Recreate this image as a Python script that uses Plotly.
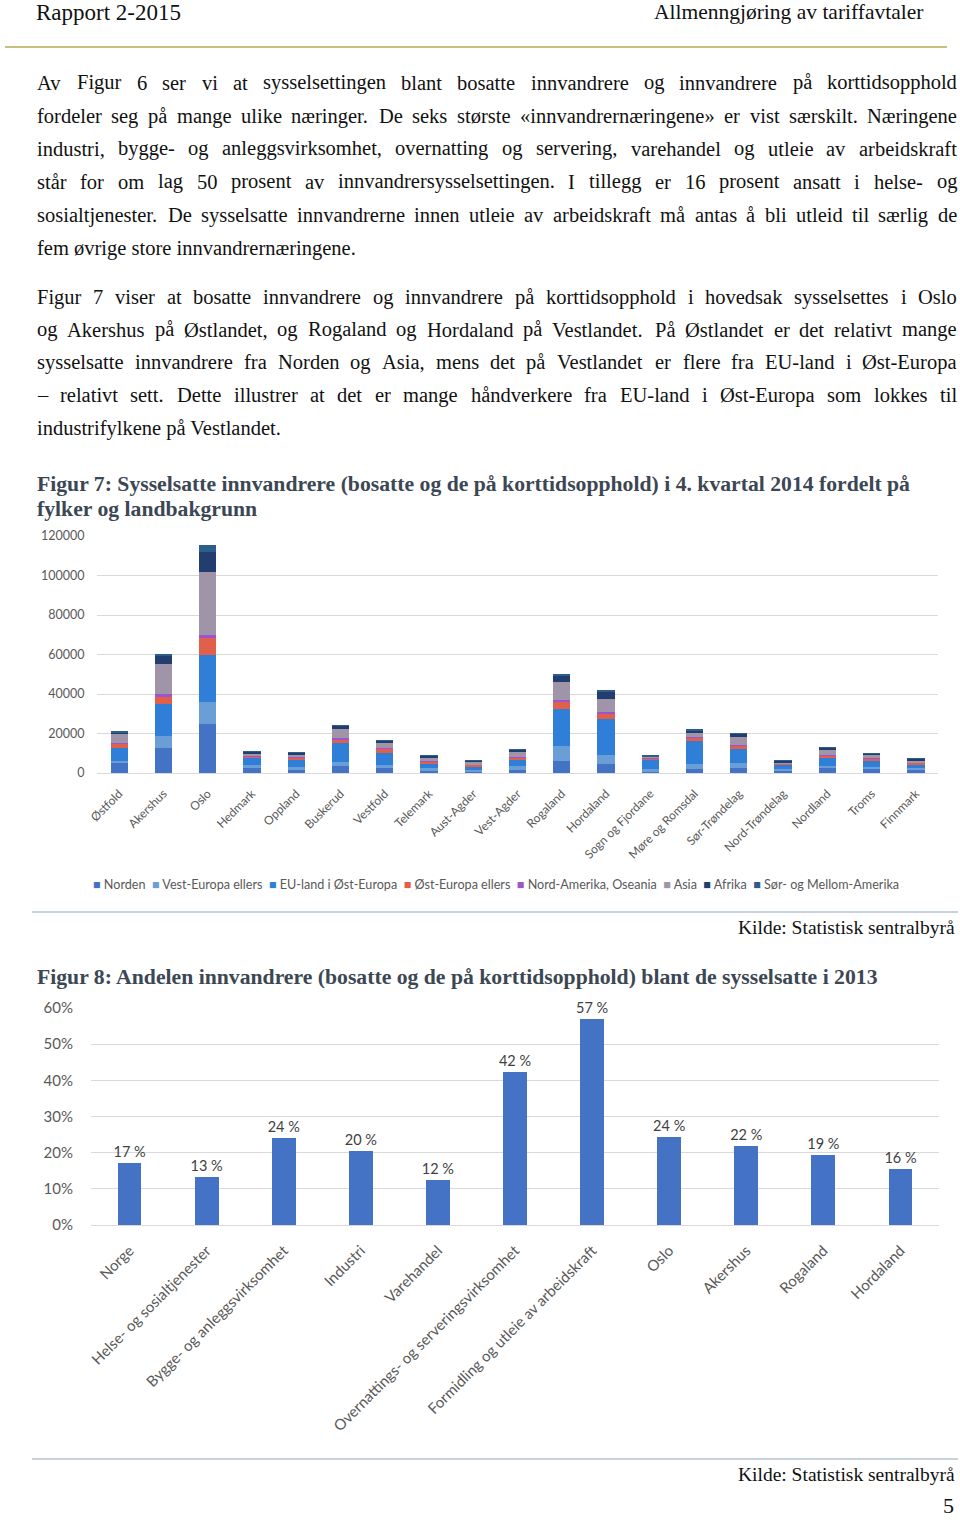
import plotly.graph_objects as go

W, H = 960, 1520

# ---------------- Data: Figure 7 ----------------
fylker = ["Østfold", "Akershus", "Oslo", "Hedmark", "Oppland", "Buskerud", "Vestfold",
          "Telemark", "Aust-Agder", "Vest-Agder", "Rogaland", "Hordaland", "Sogn og Fjordane",
          "Møre og Romsdal", "Sør-Trøndelag", "Nord-Trøndelag", "Nordland", "Troms", "Finnmark"]

norden = [5000, 12800, 24800, 2900, 1900, 3400, 2500, 1300, 800, 1300, 6000, 4400, 1000, 2000, 2700, 1300, 2400, 2400, 1700]
vest_europa = [1300, 5900, 11300, 1000, 1000, 2000, 1800, 1000, 700, 2000, 7700, 4900, 1000, 2500, 2400, 800, 1200, 800, 700]
eu_ost_europa = [6500, 16000, 23800, 3700, 3900, 9600, 6000, 2500, 2000, 3200, 18800, 18000, 4700, 11600, 7000, 2200, 4200, 3200, 2000]
ost_europa_ellers = [2300, 4000, 8700, 700, 1200, 2200, 2000, 1200, 700, 1300, 3900, 2700, 800, 1700, 2000, 300, 1300, 1000, 700]
nord_amerika = [300, 1500, 1500, 100, 100, 300, 200, 100, 100, 200, 800, 700, 100, 200, 200, 100, 100, 100, 100]
asia = [4400, 15200, 31600, 1700, 1300, 5000, 3000, 1800, 1500, 2500, 8700, 6700, 500, 2700, 3700, 700, 2500, 1700, 1300]
afrika = [900, 4000, 10000, 700, 800, 1500, 800, 800, 500, 1200, 3000, 3400, 500, 1000, 1800, 700, 1000, 800, 700]
sor_mellom_amerika = [300, 1000, 3500, 100, 100, 300, 300, 100, 100, 100, 1200, 1200, 100, 300, 300, 100, 100, 100, 100]

serie_navn = ["Norden", "Vest-Europa ellers", "EU-land i Øst-Europa", "Øst-Europa ellers",
              "Nord-Amerika, Oseania", "Asia", "Afrika", "Sør- og Mellom-Amerika"]
serie_verdier = [norden, vest_europa, eu_ost_europa, ost_europa_ellers,
                 nord_amerika, asia, afrika, sor_mellom_amerika]
serie_farger = ["#4472C4", "#6A9ED6", "#2F7FD9", "#E0604C", "#9B55CF", "#A095A8", "#213E6E", "#2C5E8C"]

# ---------------- Data: Figure 8 ----------------
naeringer = ["Norge", "Helse- og sosialtjenester", "Bygge- og anleggsvirksomhet", "Industri",
             "Varehandel", "Overnattings- og serveringsvirksomhet", "Formidling og utleie av arbeidskraft",
             "Oslo", "Akershus", "Rogaland", "Hordaland"]
andel = [17.1, 13.3, 24.1, 20.4, 12.4, 42.4, 57.0, 24.3, 21.9, 19.4, 15.6]
andel_tekst = ["17 %", "13 %", "24 %", "20 %", "12 %", "42 %", "57 %", "24 %", "22 %", "19 %", "16 %"]

# ---------------- Page text ----------------
para1 = [
    "Av Figur 6 ser vi at sysselsettingen blant bosatte innvandrere og innvandrere på korttidsopphold",
    "fordeler seg på mange ulike næringer. De seks største «innvandrernæringene» er vist særskilt. Næringene",
    "industri, bygge- og anleggsvirksomhet, overnatting og servering, varehandel og utleie av arbeidskraft",
    "står for om lag 50 prosent av innvandrersysselsettingen. I tillegg er 16 prosent ansatt i helse- og",
    "sosialtjenester. De sysselsatte innvandrerne innen utleie av arbeidskraft må antas å bli utleid til særlig de",
    "fem øvrige store innvandrernæringene.",
]
para2 = [
    "Figur 7 viser at bosatte innvandrere og innvandrere på korttidsopphold i hovedsak sysselsettes i Oslo",
    "og Akershus på Østlandet, og Rogaland og Hordaland på Vestlandet. På Østlandet er det relativt mange",
    "sysselsatte innvandrere fra Norden og Asia, mens det på Vestlandet er flere fra EU-land i Øst-Europa",
    "– relativt sett. Dette illustrer at det er mange håndverkere fra EU-land i Øst-Europa som lokkes til",
    "industrifylkene på Vestlandet.",
]
para1_y = [83, 116, 149, 182, 215, 248]
para2_y = [297, 330, 362, 395, 428]

fig7_title = ["Figur 7: Sysselsatte innvandrere (bosatte og de på korttidsopphold) i 4. kvartal 2014 fordelt på",
              "fylker og landbakgrunn"]
fig8_title = "Figur 8: Andelen innvandrere (bosatte og de på korttidsopphold) blant de sysselsatte i 2013"


def xp(px):
    return px / W


def yp(py):
    return 1 - py / H


# Times (Liberation Serif) advance widths per 1000 em
TIMES = {' ': 250, 'a': 444, 'b': 500, 'c': 444, 'd': 500, 'e': 444, 'f': 333, 'g': 500, 'h': 500,
         'i': 278, 'j': 278, 'k': 500, 'l': 278, 'm': 778, 'n': 500, 'o': 500, 'p': 500, 'q': 500,
         'r': 333, 's': 389, 't': 278, 'u': 500, 'v': 500, 'w': 722, 'x': 500, 'y': 500, 'z': 444,
         'A': 722, 'B': 667, 'C': 667, 'D': 722, 'E': 611, 'F': 556, 'G': 722, 'H': 722, 'I': 333,
         'J': 389, 'K': 722, 'L': 611, 'M': 889, 'N': 722, 'O': 722, 'P': 556, 'Q': 722, 'R': 667,
         'S': 556, 'T': 611, 'U': 722, 'V': 722, 'W': 944, 'X': 722, 'Y': 722, 'Z': 611,
         '.': 250, ',': 250, '-': 333, ':': 278, '«': 500, '»': 500, '–': 500, 'å': 444, 'æ': 667,
         'ø': 500, 'Ø': 722, 'é': 444, '(': 333, ')': 333, '%': 833}


def tw(s, size):
    return sum(TIMES.get(c, 500) for c in s) * size / 1000


LEFT, RIGHT = 36, 956
TARGET = RIGHT - LEFT
justified = para1[:-1] + para2[:-1]
max_units = max(tw(l, 1) for l in justified)
body_size = min(20.5, TARGET * 0.975 / max_units)

annotations = []
serif = "Liberation Serif"


def add_text(text, x, y, size, anchor="left", color="#111111", family=serif, yanchor="middle"):
    annotations.append(dict(text=text, x=xp(x), y=yp(y), xref="paper", yref="paper",
                            xanchor=anchor, yanchor=yanchor, showarrow=False,
                            font=dict(family=family, size=size, color=color)))


def add_paragraph(lines, ys):
    for i, (line, y) in enumerate(zip(lines, ys)):
        if i == len(lines) - 1:
            add_text(line, LEFT - 1, y, body_size)
            continue
        words = line.split(" ")
        total = sum(tw(w, body_size) for w in words)
        gap = (TARGET - total) / (len(words) - 1)
        x = LEFT
        for w in words:
            add_text(w, x - 1, y, body_size)
            x += tw(w, body_size) + gap


add_paragraph(para1, para1_y)
add_paragraph(para2, para2_y)

# Header
add_text("Rapport 2-2015", 34, 12, 23)
add_text("Allmenngjøring av tariffavtaler", 925, 12, 21.5, anchor="right")

# Figure titles
title_color = "#3C4754"
add_text("<b>" + fig7_title[0] + "</b>", 35, 484, 21.7, color=title_color)
add_text("<b>" + fig7_title[1] + "</b>", 35, 509, 21.7, color=title_color)
add_text("<b>" + fig8_title + "</b>", 35, 977, 21.7, color=title_color)

# Sources and page number
add_text("Kilde: Statistisk sentralbyrå", 957, 927, 19.5, anchor="right")
add_text("Kilde: Statistisk sentralbyrå", 957, 1474, 19.5, anchor="right")
add_text("5", 956, 1520, 22, anchor="right", yanchor="bottom")

# Legend for figure 7 (built from the series names/colours)
legend_txt = "  ".join(f'<span style="color:{c}">■</span> {n}' for n, c in zip(serie_navn, serie_farger))
add_text(legend_txt, 496, 884, 12.6, anchor="center", color="#595959", family="Lato")

fig = go.Figure()

for navn, verdier, farge in zip(serie_navn, serie_verdier, serie_farger):
    fig.add_trace(go.Bar(x=fylker, y=verdier, name=navn, marker=dict(color=farge, line=dict(width=0)),
                         xaxis="x", yaxis="y", showlegend=False))

fig.add_trace(go.Bar(x=naeringer, y=andel, text=andel_tekst, textposition="outside",
                     constraintext="none",
                     textfont=dict(family="Lato", size=14.5, color="#404040"),
                     marker=dict(color="#4472C4", line=dict(width=0)), cliponaxis=False,
                     width=0.31, xaxis="x2", yaxis="y2", showlegend=False))

grid = "#D9D9D9"
tickfont_color = "#595959"

fig.update_layout(
    width=W, height=H, autosize=False,
    margin=dict(l=0, r=0, t=0, b=0, pad=0, autoexpand=False),
    paper_bgcolor="white", plot_bgcolor="white",
    barmode="stack", bargap=0.61,
    showlegend=False,
    xaxis=dict(domain=[xp(97), xp(938)], anchor="y", tickangle=-45, automargin=False,
               tickfont=dict(family="Lato", size=12, color=tickfont_color),
               showline=True, linecolor=grid, linewidth=1, showgrid=False,
               ticks="outside", ticklen=8, tickcolor="rgba(0,0,0,0)", fixedrange=True),
    yaxis=dict(domain=[yp(773), yp(536)], anchor="x", range=[0, 120000], dtick=20000, automargin=False,
               tickformat="d", tickfont=dict(family="Lato", size=12.5, color=tickfont_color),
               showgrid=True, gridcolor=grid, gridwidth=1, zeroline=False, showline=False,
               ticks="outside", ticklen=9, tickcolor="rgba(0,0,0,0)", fixedrange=True),
    xaxis2=dict(domain=[xp(91), xp(939)], anchor="y2", tickangle=-45, automargin=False,
                tickfont=dict(family="Lato", size=15, color=tickfont_color),
                showline=True, linecolor=grid, linewidth=1, showgrid=False,
                ticks="outside", ticklen=10, tickcolor="rgba(0,0,0,0)", fixedrange=True),
    yaxis2=dict(domain=[yp(1225), yp(1008)], anchor="x2", range=[0, 60], dtick=10, automargin=False,
                ticksuffix="%", tickfont=dict(family="Lato", size=15, color=tickfont_color),
                showgrid=True, gridcolor=grid, gridwidth=1, zeroline=False, showline=False,
                ticks="outside", ticklen=14, tickcolor="rgba(0,0,0,0)", fixedrange=True),
    annotations=annotations,
    shapes=[
        dict(type="line", xref="paper", yref="paper", x0=xp(5), x1=xp(947), y0=yp(47), y1=yp(47),
             line=dict(color="#C9BF7C", width=2)),
        dict(type="line", xref="paper", yref="paper", x0=xp(32), x1=xp(958), y0=yp(912), y1=yp(912),
             line=dict(color="#8EA7C0", width=1.2)),
        dict(type="line", xref="paper", yref="paper", x0=xp(32), x1=xp(958), y0=yp(1459), y1=yp(1459),
             line=dict(color="#8EA7C0", width=1.2)),
    ],
)

# remove the browser's default 8px page margin so the figure sits at the window origin
fig.write_html("out.html", config={"displayModeBar": False},
               post_script="document.body.style.margin='0';document.body.style.overflow='hidden';")
